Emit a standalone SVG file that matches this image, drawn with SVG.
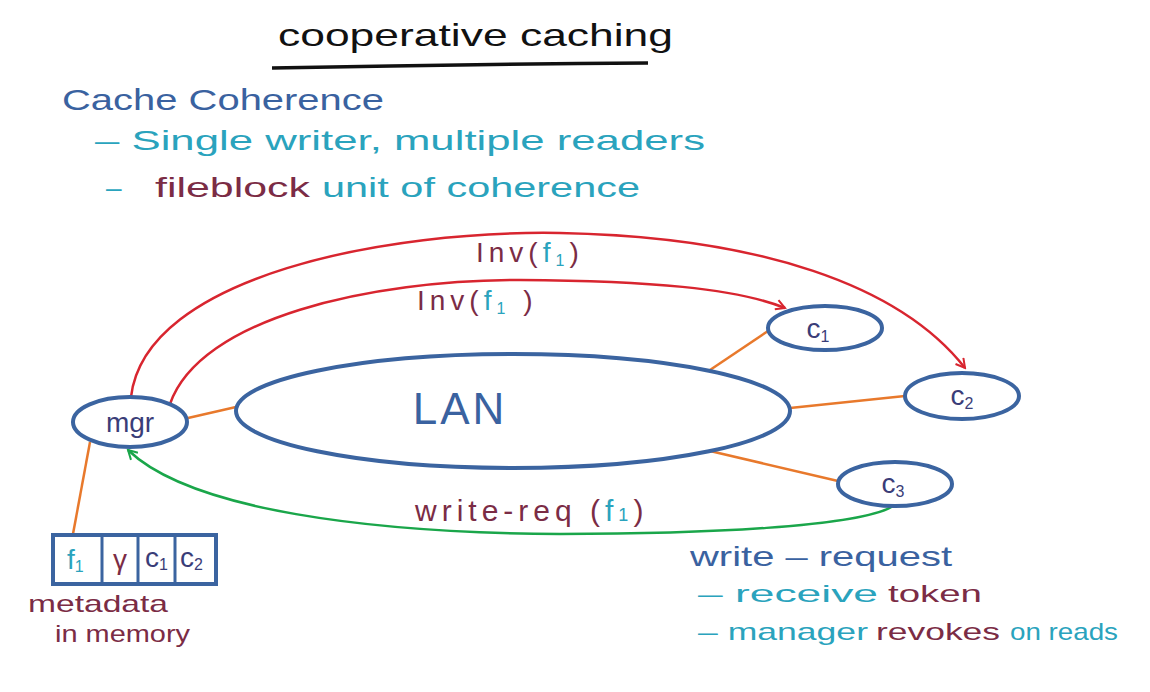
<svg xmlns="http://www.w3.org/2000/svg" width="1150" height="692" viewBox="0 0 1150 692">
<defs>
<style>
.t{font-family:"Liberation Sans","DejaVu Sans",sans-serif;}
.blue{fill:#3a62a0}
.navy{fill:#3a3d78}
.teal{fill:#2aa3bd}
.maroon{fill:#7b2c45}
.node{fill:none;stroke:#3b64a0;stroke-width:4}
.org{stroke:#e8792c;stroke-width:2.5;fill:none}
.red{stroke:#d8252f;stroke-width:2.5;fill:none}
.grn{stroke:#1aa64a;stroke-width:2.5;fill:none}
</style>
<marker id="ar" viewBox="0 0 12 12" refX="10" refY="6" markerWidth="12" markerHeight="12" markerUnits="userSpaceOnUse" orient="auto">
<path d="M1,1 L10,6 L1,11" fill="none" stroke="#d8252f" stroke-width="2"/>
</marker>
<marker id="ag" viewBox="0 0 12 12" refX="10" refY="6" markerWidth="12" markerHeight="12" markerUnits="userSpaceOnUse" orient="auto">
<path d="M1,1 L10,6 L1,11" fill="none" stroke="#1aa64a" stroke-width="2"/>
</marker>
</defs>
<rect width="1150" height="692" fill="#ffffff"/>

<g id="title">
<text class="t" x="278" y="46" font-size="32" fill="#111" textLength="395" lengthAdjust="spacingAndGlyphs">cooperative caching</text>
<path d="M272,68 Q460,64 648,63" stroke="#111" stroke-width="3.5" fill="none"/>
</g>

<g id="notes">
<text class="t blue" x="62" y="110" font-size="30" textLength="322" lengthAdjust="spacingAndGlyphs">Cache Coherence</text>
<text class="t teal" x="95" y="150" font-size="28" textLength="610" lengthAdjust="spacingAndGlyphs">– Single writer, multiple readers</text>
<text class="t teal" x="106" y="197" font-size="28">–</text>
<text class="t maroon" x="155" y="197" font-size="28" textLength="155" lengthAdjust="spacingAndGlyphs">fileblock</text>
<text class="t teal" x="322" y="197" font-size="28" textLength="318" lengthAdjust="spacingAndGlyphs">unit of coherence</text>
</g>

<g id="connectors">
<line class="org" x1="188" y1="418" x2="236" y2="407"/>
<line class="org" x1="710" y1="370" x2="768" y2="331"/>
<line class="org" x1="790" y1="408" x2="905" y2="396"/>
<line class="org" x1="710" y1="451" x2="838" y2="481"/>
<line class="org" x1="90" y1="442" x2="73" y2="534"/>
<path class="red" d="M131,397 C145,275 390,230 560,233 C760,237 900,285 965,368" marker-end="url(#ar)"/>
<path class="red" d="M170,404 C200,318 370,280 520,280 C650,281 735,288 785,308" marker-end="url(#ar)"/>
<path class="grn" d="M893,506 C860,527 700,534 560,534 C370,533 190,510 128,450" marker-end="url(#ag)"/>
</g>

<g id="labels">
<text class="t maroon" x="476" y="262" font-size="28" letter-spacing="5">Inv(<tspan class="teal">f<tspan font-size="16" dy="4">1</tspan></tspan><tspan dy="-4">)</tspan></text>
<text class="t maroon" x="417" y="310" font-size="28" letter-spacing="5">Inv(<tspan class="teal">f<tspan font-size="16" dy="4">1</tspan></tspan><tspan dy="-4"> )</tspan></text>
<text class="t maroon" x="415" y="521" font-size="30" letter-spacing="5">write-req (<tspan class="teal">f<tspan font-size="18">1</tspan></tspan>)</text>
</g>

<g id="mgr">
<ellipse class="node" cx="130" cy="422" rx="57" ry="25"/>
<text class="t navy" x="130" y="432" font-size="28" text-anchor="middle">mgr</text>
</g>

<g id="lan">
<ellipse class="node" cx="513" cy="411" rx="277" ry="57"/>
<text class="t blue" x="460" y="424" font-size="44" text-anchor="middle" letter-spacing="3">LAN</text>
</g>

<g id="c1">
<ellipse class="node" cx="825" cy="328" rx="57" ry="22"/>
<text class="t navy" x="818" y="338" font-size="28" text-anchor="middle">c<tspan font-size="16" dy="4">1</tspan></text>
</g>

<g id="c2">
<ellipse class="node" cx="962" cy="396" rx="57" ry="23"/>
<text class="t navy" x="962" y="405" font-size="28" text-anchor="middle">c<tspan font-size="16" dy="4">2</tspan></text>
</g>

<g id="c3">
<ellipse class="node" cx="895" cy="484" rx="57" ry="22"/>
<text class="t navy" x="893" y="493" font-size="28" text-anchor="middle">c<tspan font-size="16" dy="4">3</tspan></text>
</g>

<g id="metadata">
<rect x="53" y="535" width="163" height="49" fill="none" stroke="#3b64a0" stroke-width="4"/>
<line x1="102" y1="537" x2="102" y2="582" stroke="#3b64a0" stroke-width="3"/>
<line x1="138" y1="537" x2="138" y2="582" stroke="#3b64a0" stroke-width="3"/>
<line x1="175" y1="537" x2="175" y2="582" stroke="#3b64a0" stroke-width="3"/>
<text class="t teal" x="67" y="569" font-size="28">f<tspan font-size="16" dy="3">1</tspan></text>
<text class="t maroon" x="120" y="569" font-size="28" text-anchor="middle">γ</text>
<text class="t navy" x="145" y="567" font-size="28">c<tspan font-size="16" dy="3">1</tspan></text>
<text class="t navy" x="180" y="567" font-size="28">c<tspan font-size="16" dy="3">2</tspan></text>
<text class="t maroon" x="28" y="612" font-size="24" textLength="140" lengthAdjust="spacingAndGlyphs">metadata</text>
<text class="t maroon" x="55" y="642" font-size="24" textLength="135" lengthAdjust="spacingAndGlyphs">in memory</text>
</g>

<g id="write-notes">
<text class="t blue" x="690" y="566" font-size="28" textLength="262" lengthAdjust="spacingAndGlyphs">write – request</text>
<text class="t teal" x="698" y="602" font-size="24" textLength="180" lengthAdjust="spacingAndGlyphs">– receive</text>
<text class="t maroon" x="888" y="602" font-size="24" textLength="94" lengthAdjust="spacingAndGlyphs">token</text>
<text class="t teal" x="698" y="640" font-size="24" textLength="170" lengthAdjust="spacingAndGlyphs">– manager</text>
<text class="t maroon" x="876" y="640" font-size="24" textLength="124" lengthAdjust="spacingAndGlyphs">revokes</text>
<text class="t teal" x="1010" y="640" font-size="24" textLength="108" lengthAdjust="spacingAndGlyphs">on reads</text>
</g>
</svg>
